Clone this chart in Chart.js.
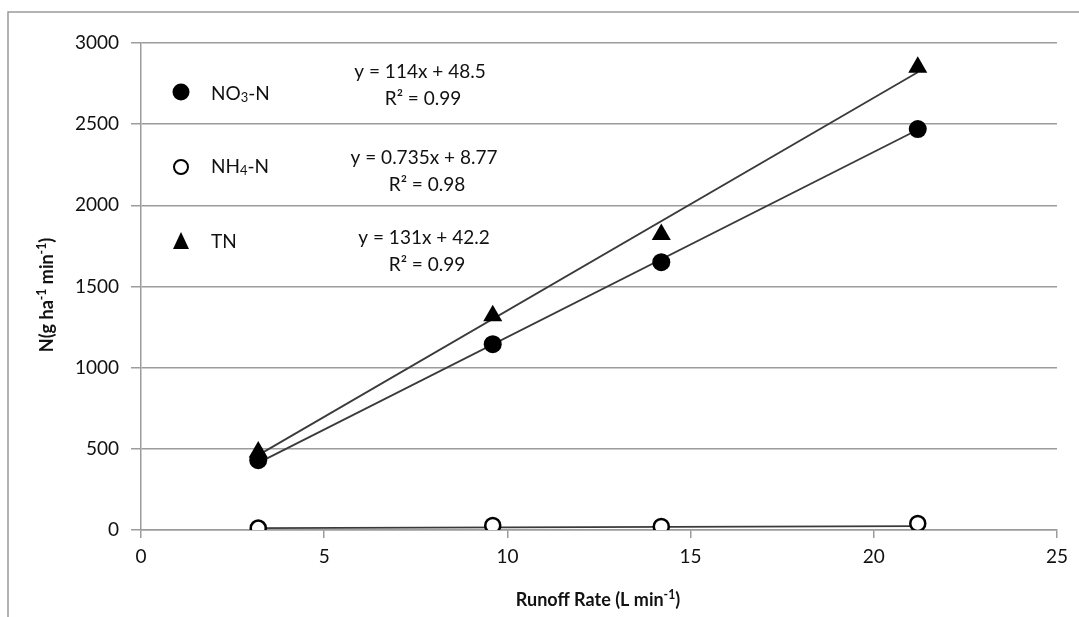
<!DOCTYPE html>
<html>
<head>
<meta charset="utf-8">
<script src="https://cdn.jsdelivr.net/npm/chart.js@4.4.1/dist/chart.umd.min.js"></script>
<style>
  html, body { margin: 0; padding: 0; background: #fff; }
  #wrap { width: 1079px; height: 617px; position: relative; }
</style>
</head>
<body>
<div id="wrap"><canvas id="chart" width="1079" height="617"></canvas></div>
<script>
// runoff rate (L/min) and nitrogen loads (g/ha/min)
const runoffRate = [3.2, 9.6, 14.2, 21.2];
const no3N = [430, 1145, 1650, 2470];
const nh4N = [12, 28, 22, 40];
const totalN = [480, 1320, 1820, 2850];

// fitted trendlines as printed on the chart
const trendSlopes = [114, 0.735, 131];
const trendIntercepts = [48.5, 8.77, 42.2];
const trendLabels = ['y = 114x + 48.5', 'y = 0.735x + 8.77', 'y = 131x + 42.2'];
const r2Labels = ['R² = 0.99', 'R² = 0.98', 'R² = 0.99'];

const xTicks = [0, 5, 10, 15, 20, 25];
const yTicks = [0, 500, 1000, 1500, 2000, 2500, 3000];

const FONT = 'Lato, "Open Sans", sans-serif';
const INK = '#111';
const GRID = '#9c9c9c';

const toPoints = (ys) => runoffRate.map((x, i) => ({ x: x, y: ys[i] }));

// trendline spans the range of the observed x values
function trendPoints(i) {
    const x0 = Math.min(...runoffRate);
    const x1 = Math.max(...runoffRate);
    return [x0, x1].map(x => ({ x: x, y: trendSlopes[i] * x + trendIntercepts[i] }));
}

// draw text made of pieces, some of them sub/superscript
function drawRich(ctx, parts, x, y, size, bold, align) {
    const f = (p) => (bold ? 'bold ' : '') + (p.sub || p.sup ? size * 0.68 : size) + 'px ' + FONT;
    let total = 0;
    parts.forEach(p => { ctx.font = f(p); total += ctx.measureText(p.t).width; });
    let cx = align === 'center' ? x - total / 2 : x;
    ctx.textAlign = 'left';
    ctx.textBaseline = 'middle';
    parts.forEach(p => {
        ctx.font = f(p);
        const dy = p.sub ? size * 0.22 : (p.sup ? -size * 0.3 : 0);
        ctx.fillText(p.t, cx, y + dy);
        cx += ctx.measureText(p.t).width;
    });
}

const overlay = {
    id: 'overlay',
    beforeDraw(chart) {
        const ctx = chart.ctx;
        ctx.save();
        ctx.strokeStyle = '#9a9a9a';
        ctx.lineWidth = 1.5;
        ctx.strokeRect(8, 12, 1200, 800);
        ctx.restore();
    },
    afterDraw(chart) {
        const ctx = chart.ctx;
        ctx.save();
        ctx.strokeStyle = '#000';

        // legend markers
        ctx.fillStyle = '#000';
        ctx.beginPath();
        ctx.arc(181, 92, 8.5, 0, Math.PI * 2);
        ctx.fill();
        ctx.beginPath();
        ctx.arc(181, 167, 7, 0, Math.PI * 2);
        ctx.fillStyle = '#fff';
        ctx.fill();
        ctx.lineWidth = 2;
        ctx.stroke();
        ctx.fillStyle = '#000';
        ctx.beginPath();
        ctx.moveTo(181, 232);
        ctx.lineTo(189, 249);
        ctx.lineTo(173, 249);
        ctx.closePath();
        ctx.fill();

        ctx.fillStyle = INK;
        drawRich(ctx, [{ t: 'NO' }, { t: '3', sub: true }, { t: '-N' }], 211, 94, 19, false, 'left');
        drawRich(ctx, [{ t: 'NH' }, { t: '4', sub: true }, { t: '-N' }], 211, 167, 19, false, 'left');
        drawRich(ctx, [{ t: 'TN' }], 211, 242, 19, false, 'left');

        // equations
        const eqY = [72, 158, 238];
        const rY = [99, 185, 265];
        const eqX = [420, 424, 424];
        trendLabels.forEach((t, i) => {
            drawRich(ctx, [{ t: t }], eqX[i], eqY[i], 19, false, 'center');
            drawRich(ctx, [{ t: r2Labels[i] }], eqX[i] + 3, rY[i], 19, false, 'center');
        });

        // axis titles
        drawRich(ctx, [{ t: 'Runoff Rate (L min' }, { t: '-1', sup: true }, { t: ')' }], 598, 600, 18, true, 'center');
        ctx.translate(47, 295);
        ctx.rotate(-Math.PI / 2);
        drawRich(ctx, [{ t: 'N(g ha' }, { t: '-1', sup: true }, { t: ' min' }, { t: '-1', sup: true }, { t: ')' }], 0, 0, 18, true, 'center');
        ctx.restore();
    }
};

const lineStyle = { showLine: true, pointRadius: 0, borderColor: '#3a3a3a', borderWidth: 1.8, order: 2 };

new Chart(document.getElementById('chart'), {
    type: 'scatter',
    data: {
        datasets: [
            Object.assign({ label: 'NO3 trend', data: trendPoints(0) }, lineStyle),
            Object.assign({ label: 'NH4 trend', data: trendPoints(1) }, lineStyle),
            Object.assign({ label: 'TN trend', data: trendPoints(2) }, lineStyle),
            {
                label: 'NO3-N', data: toPoints(no3N), order: 1,
                pointStyle: 'circle', pointRadius: 9, backgroundColor: '#000', borderColor: '#000', borderWidth: 0
            },
            {
                label: 'NH4-N', data: toPoints(nh4N), order: 1,
                pointStyle: 'circle', pointRadius: 7.5, backgroundColor: '#fff', borderColor: '#000', borderWidth: 2.5
            },
            {
                label: 'TN', data: toPoints(totalN), order: 1,
                pointStyle: 'triangle', pointRadius: 11, backgroundColor: '#000', borderColor: '#000', borderWidth: 0
            }
        ]
    },
    options: {
        responsive: false,
        animation: false,
        events: [],
        layout: { padding: { left: 0, right: 22, top: 43, bottom: 0 } },
        plugins: {
            legend: { display: false },
            tooltip: { enabled: false }
        },
        scales: {
            x: {
                type: 'linear',
                min: 0,
                max: 25,
                afterFit: (s) => { s.height = 87; },
                afterBuildTicks: (s) => { s.ticks = xTicks.map(v => ({ value: v })); },
                ticks: { color: INK, font: { family: FONT, size: 19 }, padding: 7, callback: (v) => String(v) },
                grid: { drawOnChartArea: false, drawTicks: true, tickLength: 8, color: GRID, lineWidth: 1.5 },
                border: { color: GRID, width: 1.5 }
            },
            y: {
                min: 0,
                max: 3000,
                afterFit: (s) => { s.width = 141; },
                afterBuildTicks: (s) => { s.ticks = yTicks.map(v => ({ value: v })); },
                ticks: { color: INK, font: { family: FONT, size: 19 }, padding: 12, callback: (v) => String(v) },
                grid: { tickLength: 10, color: GRID, lineWidth: 1.5 },
                border: { color: GRID, width: 1.5 }
            }
        }
    },
    plugins: [overlay]
});
</script>
</body>
</html>
